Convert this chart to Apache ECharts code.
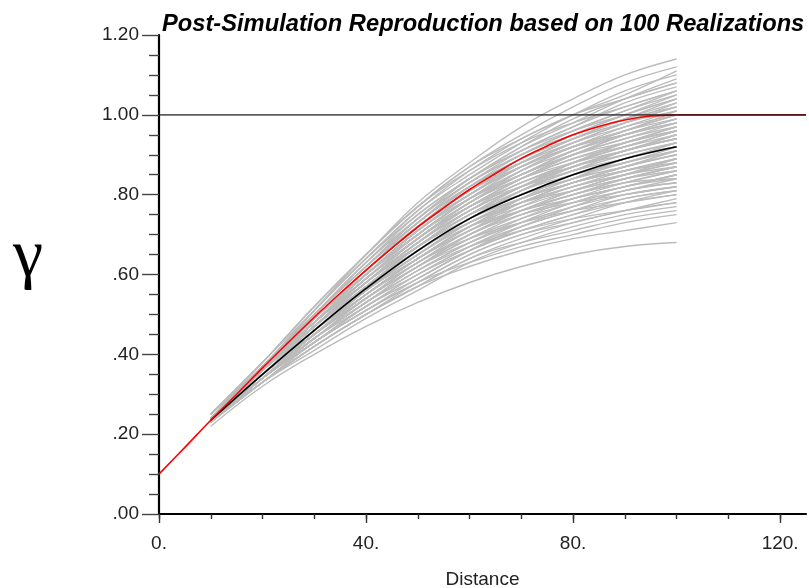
<!DOCTYPE html>
<html>
<head>
<meta charset="utf-8">
<script src="https://cdn.jsdelivr.net/npm/echarts@6/dist/echarts.min.js"></script>
<style>
html,body{margin:0;padding:0;background:#fff;}
#chart{width:809px;height:588px;}
</style>
</head>
<body>
<div id="chart"></div>
<script>
const titleText = 'Post-Simulation Reproduction based on 100 Realizations';
const xName = 'Distance';
const yName = 'γ';

const lags = [10, 20, 30, 40, 50, 60, 70, 80, 90, 100];

const realizations = [
  [.22,.32,.40,.47,.53,.58,.62,.65,.67,.68],
  [.23,.33,.42,.50,.57,.62,.66,.69,.71,.73],
  [.23,.34,.43,.51,.58,.63,.67,.70,.73,.75],
  [.23,.33,.42,.50,.57,.64,.68,.71,.74,.76],
  [.23,.33,.41,.49,.56,.63,.68,.72,.75,.77],
  [.23,.33,.43,.51,.58,.65,.70,.73,.76,.78],
  [.23,.34,.44,.53,.61,.67,.71,.74,.76,.78],
  [.23,.33,.42,.50,.57,.64,.69,.73,.76,.79],
  [.23,.34,.43,.52,.59,.66,.71,.75,.78,.80],
  [.24,.34,.45,.54,.63,.69,.73,.76,.78,.80],
  [.23,.33,.42,.50,.58,.65,.70,.74,.78,.81],
  [.23,.34,.44,.52,.60,.66,.71,.75,.79,.81],
  [.23,.34,.44,.53,.61,.68,.73,.77,.80,.82],
  [.23,.34,.43,.52,.59,.66,.72,.76,.80,.82],
  [.24,.35,.45,.55,.63,.70,.75,.78,.80,.82],
  [.23,.34,.44,.53,.60,.67,.72,.76,.79,.81],
  [.23,.33,.43,.51,.59,.66,.72,.77,.81,.83],
  [.23,.34,.44,.53,.62,.69,.74,.78,.82,.84],
  [.24,.35,.46,.56,.65,.72,.76,.80,.83,.84],
  [.23,.34,.43,.52,.60,.67,.73,.78,.81,.84],
  [.23,.34,.44,.54,.62,.69,.75,.79,.82,.85],
  [.23,.34,.45,.54,.62,.68,.73,.77,.81,.83],
  [.24,.35,.45,.55,.64,.71,.76,.79,.82,.85],
  [.23,.34,.45,.54,.63,.70,.76,.80,.83,.86],
  [.23,.34,.44,.53,.61,.68,.74,.79,.83,.86],
  [.24,.35,.46,.56,.66,.73,.78,.81,.84,.86],
  [.23,.34,.45,.55,.63,.71,.76,.80,.84,.87],
  [.23,.35,.45,.54,.62,.70,.75,.79,.82,.85],
  [.24,.35,.46,.56,.64,.71,.76,.80,.84,.87],
  [.23,.35,.45,.55,.64,.71,.77,.82,.85,.88],
  [.24,.35,.46,.57,.66,.73,.78,.82,.85,.87],
  [.23,.34,.44,.54,.62,.70,.76,.81,.85,.88],
  [.23,.35,.45,.55,.64,.72,.78,.82,.86,.89],
  [.24,.36,.47,.58,.67,.74,.79,.83,.86,.88],
  [.23,.34,.45,.54,.63,.70,.76,.81,.85,.89],
  [.23,.35,.46,.55,.64,.72,.77,.81,.84,.87],
  [.23,.35,.46,.56,.65,.73,.79,.83,.87,.90],
  [.24,.36,.47,.58,.67,.75,.80,.84,.87,.90],
  [.23,.34,.45,.55,.64,.72,.78,.83,.87,.90],
  [.23,.35,.46,.56,.65,.73,.78,.83,.86,.89],
  [.24,.35,.46,.57,.66,.74,.80,.84,.88,.91],
  [.23,.35,.45,.55,.64,.71,.78,.83,.87,.91],
  [.24,.36,.47,.57,.66,.74,.79,.83,.86,.89],
  [.24,.35,.46,.57,.66,.74,.80,.85,.89,.92],
  [.24,.36,.48,.59,.69,.77,.82,.86,.89,.92],
  [.23,.35,.45,.56,.65,.73,.79,.84,.89,.92],
  [.24,.35,.46,.57,.66,.74,.81,.86,.90,.93],
  [.24,.36,.47,.58,.67,.75,.81,.85,.88,.91],
  [.23,.34,.45,.55,.64,.72,.79,.85,.89,.93],
  [.24,.35,.47,.57,.67,.75,.80,.85,.88,.92],
  [.24,.35,.46,.56,.66,.74,.80,.84,.89,.92],
  [.24,.35,.47,.57,.67,.75,.82,.87,.91,.94],
  [.24,.36,.48,.59,.69,.78,.84,.88,.91,.94],
  [.23,.35,.46,.56,.66,.74,.81,.86,.91,.94],
  [.24,.35,.47,.58,.68,.76,.82,.87,.91,.95],
  [.24,.36,.47,.58,.68,.76,.82,.87,.90,.93],
  [.24,.35,.46,.57,.66,.74,.81,.87,.91,.95],
  [.24,.36,.48,.58,.68,.76,.83,.87,.91,.94],
  [.24,.36,.47,.58,.68,.77,.83,.88,.93,.96],
  [.24,.36,.49,.60,.71,.79,.85,.90,.93,.96],
  [.24,.35,.46,.57,.67,.75,.82,.88,.92,.96],
  [.24,.36,.47,.59,.69,.77,.84,.89,.93,.97],
  [.24,.36,.48,.59,.69,.78,.84,.89,.92,.95],
  [.24,.35,.47,.58,.67,.76,.82,.88,.93,.97],
  [.24,.36,.48,.59,.69,.77,.83,.88,.92,.96],
  [.24,.36,.48,.59,.69,.78,.85,.90,.95,.98],
  [.24,.37,.49,.61,.72,.81,.87,.92,.95,.98],
  [.24,.36,.47,.58,.68,.77,.84,.90,.94,.98],
  [.24,.36,.48,.60,.70,.79,.86,.91,.95,.99],
  [.24,.36,.49,.60,.70,.79,.85,.90,.94,.97],
  [.24,.36,.47,.58,.69,.77,.84,.90,.95,.99],
  [.24,.37,.49,.60,.70,.79,.85,.91,.95,.98],
  [.24,.36,.48,.60,.70,.79,.86,.92,.96,1.00],
  [.24,.37,.50,.62,.73,.82,.88,.93,.97,1.00],
  [.24,.36,.47,.59,.69,.78,.85,.91,.96,1.00],
  [.24,.36,.48,.60,.71,.80,.87,.92,.97,1.01],
  [.24,.37,.49,.61,.72,.80,.87,.92,.96,.99],
  [.24,.36,.48,.59,.70,.78,.86,.92,.96,1.01],
  [.24,.36,.49,.61,.72,.81,.88,.94,.98,1.02],
  [.25,.37,.50,.63,.74,.83,.90,.95,.99,1.02],
  [.24,.36,.48,.60,.70,.79,.87,.93,.98,1.02],
  [.24,.36,.49,.61,.72,.81,.88,.94,.99,1.03],
  [.24,.37,.50,.62,.73,.82,.89,.94,.98,1.01],
  [.24,.36,.48,.60,.71,.80,.87,.93,.98,1.03],
  [.24,.36,.49,.61,.73,.82,.89,.95,1.00,1.04],
  [.25,.37,.51,.64,.75,.84,.91,.96,1.00,1.04],
  [.24,.36,.48,.60,.71,.80,.88,.94,.99,1.04],
  [.24,.37,.50,.62,.73,.83,.90,.96,1.01,1.05],
  [.24,.36,.49,.61,.72,.81,.89,.95,1.00,1.05],
  [.24,.37,.50,.62,.74,.83,.91,.97,1.02,1.06],
  [.25,.38,.52,.65,.77,.86,.93,.98,1.02,1.06],
  [.24,.36,.49,.61,.72,.82,.90,.96,1.01,1.06],
  [.24,.37,.50,.63,.74,.84,.91,.97,1.03,1.07],
  [.24,.37,.50,.63,.75,.84,.92,.99,1.04,1.08],
  [.25,.38,.52,.65,.77,.87,.94,1.00,1.04,1.08],
  [.24,.37,.50,.62,.74,.84,.92,.98,1.04,1.09],
  [.24,.37,.51,.64,.76,.86,.94,1.00,1.06,1.10],
  [.25,.38,.51,.64,.76,.85,.93,1.00,1.05,1.11],
  [.25,.37,.51,.65,.77,.87,.95,1.02,1.08,1.12],
  [.25,.38,.52,.65,.78,.88,.97,1.04,1.10,1.14]
];

const meanValues = [.235,.350,.460,.565,.660,.740,.800,.850,.890,.920];

const modelLags = [0,5,10,15,20,25,30,35,40,45,50,55,60,65,70,75,80,85,90,95,100,125];
const modelValues = [.100,.167,.235,.300,.366,.430,.493,.553,.611,.666,.719,.767,.813,.853,.891,.922,.950,.971,.987,.997,1.000,1.000];

const sillLags = [0, 125];
const sillValues = [1.0, 1.0];

const xMinorTicks = [0,10,20,30,40,50,60,70,80,90,100,110,120];
const xMajorTicks = [0, 40, 80, 120];
const xTickLabels = ['0.', '40.', '80.', '120.'];
const yTickLabels = ['.00', '.20', '.40', '.60', '.80', '1.00', '1.20'];

const chart = echarts.init(document.getElementById('chart'), null, {renderer: 'canvas'});

const pairs = (xs, ys) => xs.map((x, i) => [x, ys[i]]);

const series = [];
realizations.forEach((row, k) => {
  series.push({
    type: 'line', name: 'real' + k, data: pairs(lags, row),
    symbol: 'none', smooth: 0.4, silent: true,
    lineStyle: {color: '#bbbbbb', width: 1.4}, z: 2
  });
});
series.push({
  type: 'line', name: 'mean', data: pairs(lags, meanValues),
  symbol: 'none', smooth: 0.4, silent: true,
  lineStyle: {color: '#000', width: 1.6}, z: 3
});
series.push({
  type: 'line', name: 'model', data: pairs(modelLags.slice(0, 21), modelValues.slice(0, 21)),
  symbol: 'none', smooth: 0.4, silent: true,
  lineStyle: {color: '#ff0000', width: 1.6}, z: 4
});
series.push({
  type: 'line', name: 'modelFlat', data: pairs(modelLags.slice(20), modelValues.slice(20)),
  symbol: 'none', silent: true,
  lineStyle: {color: '#ff0000', width: 1.6}, z: 4
});
series.push({
  type: 'line', name: 'sill', data: pairs(sillLags, sillValues),
  symbol: 'none', silent: true,
  lineStyle: {color: 'rgba(30,30,30,0.72)', width: 1.6}, z: 5
});

const labelFont = {fontFamily: 'Liberation Sans', fontSize: 19, color: '#222'};

chart.setOption({
  animation: false,
  backgroundColor: '#fff',
  grid: {left: 159, right: 3, top: 35, bottom: 74, containLabel: false, outerBoundsMode: 'none'},
  xAxis: [{
    type: 'value', min: 0, max: 125,
    axisLine: {show: true, onZero: false, lineStyle: {color: '#000', width: 2.2}},
    axisTick: {show: true, customValues: xMinorTicks, length: 5, lineStyle: {color: '#333', width: 1.4}},
    axisLabel: {show: false},
    splitLine: {show: false},
    name: xName, nameLocation: 'middle', nameGap: 56,
    nameTextStyle: {fontFamily: 'Liberation Sans', fontSize: 19, color: '#222'}
  }, {
    type: 'value', min: 0, max: 125, position: 'bottom',
    axisLine: {show: false},
    axisTick: {show: true, customValues: xMajorTicks, length: 9, lineStyle: {color: '#333', width: 1.4}},
    axisLabel: Object.assign({
      show: true, customValues: xMajorTicks, margin: 20,
      formatter: v => { const i = xMajorTicks.indexOf(Math.round(v)); return i >= 0 ? xTickLabels[i] : ''; }
    }, labelFont),
    splitLine: {show: false}
  }],
  yAxis: {
    type: 'value', min: 0, max: 1.2, interval: 0.2,
    axisLine: {show: true, onZero: false, lineStyle: {color: '#000', width: 2.2}},
    axisTick: {show: true, length: 17, lineStyle: {color: '#444', width: 1.4}},
    minorTick: {show: true, splitNumber: 4, length: 10, lineStyle: {color: '#444', width: 1.4}},
    axisLabel: Object.assign({
      margin: 20, verticalAlign: 'middle', padding: [0, 0, 8, 0],
      formatter: v => yTickLabels[Math.round(v / 0.2)]
    }, labelFont),
    splitLine: {show: false}, minorSplitLine: {show: false}
  },
  graphic: [{
    type: 'text', left: 162, top: 12,
    style: {text: titleText, font: 'italic bold 23.7px "Liberation Sans"', fill: '#000'}
  }, {
    type: 'text', x: 28, y: 258,
    style: {text: yName, font: '68px "Liberation Serif"', fill: '#000', align: 'center', verticalAlign: 'middle'}
  }],
  series: series
});
</script>
</body>
</html>
